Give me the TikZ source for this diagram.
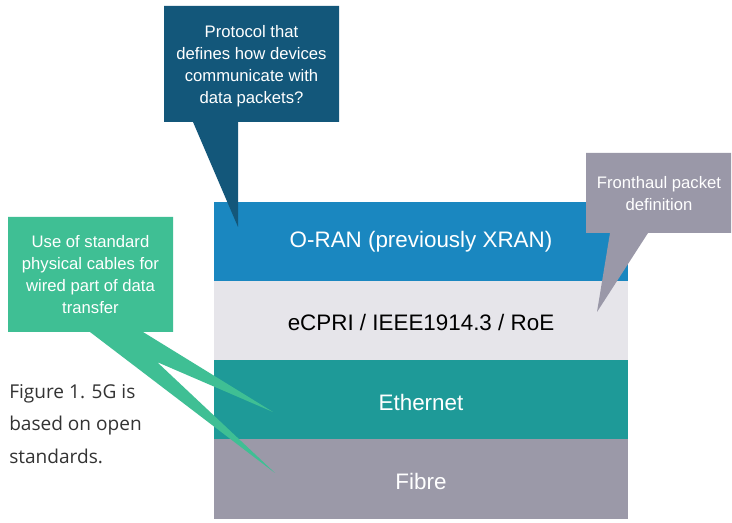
\documentclass[tikz,border=0pt]{standalone}
\usepackage{fontspec}
\setmainfont{Liberation Sans}
\newfontfamily\captionfont{Open Sans}
\definecolor{oranblue}{HTML}{1A87C0}
\definecolor{cprigray}{HTML}{E6E5EA}
\definecolor{ethteal}{HTML}{1E9A98}
\definecolor{fibregray}{HTML}{9B99A8}
\definecolor{calloutnavy}{HTML}{13577A}
\definecolor{calloutgreen}{HTML}{3FBF94}
\definecolor{calloutgray}{HTML}{9A98A8}
\definecolor{captiongray}{HTML}{333333}
\tikzset{
  layertext/.style={font=\fontsize{16.8}{20}\selectfont, anchor=center, inner sep=0pt},
  callouttext/.style={font=\fontsize{12.5}{16.5}\selectfont, text=white, align=center, anchor=center, inner sep=0pt},
}
\begin{document}
\begin{tikzpicture}[x=0.75pt, y=-0.75pt]
\useasboundingbox (0,0) rectangle (732,523);
\fill[white] (0,0) rectangle (732,523);

% protocol stack
\fill[oranblue]  (214,202) rectangle (628,281);
\fill[cprigray]  (214,281) rectangle (628,360);
\fill[ethteal]   (214,360) rectangle (628,439);
\fill[fibregray] (214,439) rectangle (628,519);
\node[layertext, text=white] (oran) at (421,242) {O-RAN (previously XRAN)};
\node[layertext, text=black] (ecpri) at (421,322) {eCPRI / IEEE1914.3 / RoE};
\node[layertext, text=white] (eth) at (421,402) {Ethernet};
\node[layertext, text=white] (fibre) at (421,481) {Fibre};

% callout: protocol question
\fill[calloutnavy] (164,6) -- (339,6) -- (339,122) -- (238,122) -- (238,227) -- (193,122) -- (164,122) -- cycle;
\node[callouttext] (proto) at (251.5,66) {Protocol that\\defines how devices\\communicate with\\data packets?};

% callout: physical cables
\fill[calloutgreen] (8,217) -- (173,217) -- (173,332) -- (143,332) -- (273,412) -- (157,362) -- (275,473) -- (90,332) -- (8,332) -- cycle;
\node[callouttext] (cables) at (90.5,275) {Use of standard\\physical cables for\\wired part of data\\transfer};

% callout: fronthaul
\fill[calloutgray] (586,153) -- (731,153) -- (731,233) -- (648,233) -- (597,312) -- (610,233) -- (586,233) -- cycle;
\node[callouttext] (fronthaul) at (659,194) {Fronthaul packet\\definition};

% caption
\node[font=\captionfont\fontsize{14.3}{24.5}\selectfont, text=captiongray, align=left, anchor=north west, inner sep=0pt] (caption) at (9,384) {Figure 1. 5G is\\based on open\\standards.};
\end{tikzpicture}
\end{document}
